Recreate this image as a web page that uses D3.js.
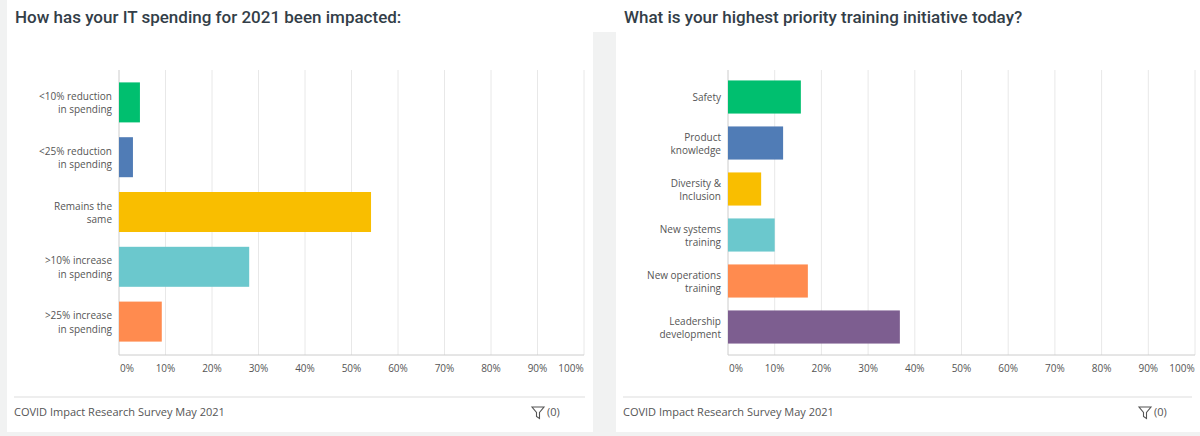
<!DOCTYPE html><html><head><meta charset="utf-8"><script src="https://d3js.org/d3.v7.min.js"></script>
<style>body{margin:0;background:#f1f2f2;font-family:"Open Sans",sans-serif}</style></head><body><svg id="c" width="1200" height="436"></svg>
<script>
const cats1=["<10% reduction|in spending","<25% reduction|in spending","Remains the|same",">10% increase|in spending",">25% increase|in spending"];
const vals1=[4.5,3,54.2,28,9.2];
const cols1=["#00bf6f","#507cb6","#f9be00","#6bc8cd","#ff8b4f"];
const cats2=["Safety","Product|knowledge","Diversity &|Inclusion","New systems|training","New operations|training","Leadership|development"];
const vals2=[15.6,11.8,7.1,10,17.1,36.8];
const cols2=["#00bf6f","#507cb6","#f9be00","#6bc8cd","#ff8b4f","#7d5e90"];
const ticks=[0,10,20,30,40,50,60,70,80,90,100];
const svg=d3.select("#c");
function panel(px,pw,title,cats,vals,cols,x0,x1,y0,y1,pad){
 svg.append("rect").attr("x",px).attr("y",0).attr("width",pw).attr("height",432).attr("fill","#fff");
 svg.append("text").attr("x",px+8).attr("y",23).text(title).attr("font-family","Roboto").attr("font-size",17).attr("font-weight",500).attr("fill","#333e48");
 const x=d3.scaleLinear().domain([0,100]).range([x0,x1]);
 const y=d3.scaleBand().domain(cats).range([y0,y1]).paddingInner(pad).paddingOuter(pad/2);
 svg.append("g").selectAll("line").data(ticks.slice(1)).join("line").attr("x1",x).attr("x2",x).attr("y1",70).attr("y2",355).attr("stroke","#e8e8e8");
 svg.append("line").attr("x1",x0).attr("x2",x0).attr("y1",70).attr("y2",355).attr("stroke","#ccc");
 svg.append("line").attr("x1",x0).attr("x2",x1).attr("y1",355).attr("y2",355).attr("stroke","#ccc");
 svg.append("g").selectAll("rect").data(cats).join("rect").attr("x",x0).attr("y",d=>y(d)).attr("height",y.bandwidth()).attr("width",(d,i)=>x(vals[i])-x0).attr("fill",(d,i)=>cols[i]);
 const lab=svg.append("g").selectAll("text").data(cats).join("text").attr("x",x0-7).attr("y",d=>y(d)+y.bandwidth()/2).attr("text-anchor","end").attr("font-size",10).attr("fill","#555");
 lab.each(function(d){const p=d.split("|");const t=d3.select(this);p.forEach((s,i)=>t.append("tspan").attr("x",x0-7).attr("dy",i==0?(p.length==1?3.5:-2.5):13.5).text(s));});
 svg.append("g").selectAll("text").data(ticks).join("text").attr("x",d=>d==0?x0+8:d==100?x1-13:x(d)).attr("y",372).attr("text-anchor","middle").attr("font-size",10).attr("fill","#555").text(d=>d+"%");
 svg.append("line").attr("x1",px+7).attr("x2",px+pw-8).attr("y1",397).attr("y2",397).attr("stroke","#ddd");
 svg.append("text").attr("x",px+7).attr("y",416).text("COVID Impact Research Survey May 2021").attr("font-size",11).attr("fill","#555");
 svg.append("path").attr("d",`M${px+pw-61},407 h12 l-4.5,5.5 v6 l-3,-2 v-4z`).attr("fill","none").attr("stroke","#555").attr("stroke-width",1.1);
 svg.append("text").attr("x",px+pw-46).attr("y",416).text("(0)").attr("font-size",11).attr("fill","#555");
}
panel(7,586,"How has your IT spending for 2021 been impacted:",cats1,vals1,cols1,119,584,75,349,0.27);
panel(616,584,"What is your highest priority training initiative today?",cats2,vals2,cols2,728,1195,74,350,0.28);
svg.append("rect").attr("x",593).attr("y",0).attr("width",23).attr("height",32).attr("fill","#fff");
</script></body></html>
